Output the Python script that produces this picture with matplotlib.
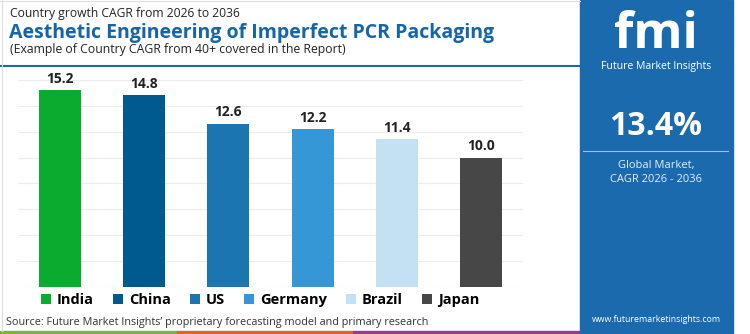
import matplotlib.pyplot as plt
from matplotlib.patches import Rectangle, Patch
from matplotlib.lines import Line2D

countries = ["India", "China", "US", "Germany", "Brazil", "Japan"]
cagr = [15.2, 14.8, 12.6, 12.2, 11.4, 10.0]
bar_colors = ["#0aab2f", "#00598f", "#1b75b1", "#3597d6", "#c4e1f3", "#474747"]
global_cagr = "13.4%"

plt.rcParams["font.family"] = ["Open Sans", "DejaVu Sans"]

W, H = 750, 334
fig = plt.figure(figsize=(W / 100, H / 100), dpi=100)
fig.patch.set_facecolor("white")

def px(x, y):
    return x / W, 1 - y / H

# bar axes: x 18..523 px, y 67..287 px
ax = fig.add_axes([18 / W, 1 - 287 / H, (523 - 18) / W, (287 - 67) / H])
x = range(len(countries))
ax.bar(x, cagr, width=0.5, color=bar_colors, zorder=3)
for i, v in enumerate(cagr):
    ax.text(i, v + 0.35, f"{v:.1f}", ha="center", va="bottom", fontsize=10,
            fontweight="bold", color="#222222", zorder=4)
ax.set_xlim(-0.5, 5.5)
ax.set_ylim(0, 17)
ax.set_yticks(range(0, 17, 2))
ax.grid(axis="y", color="#ececec", linewidth=0.8, zorder=0)
ax.tick_params(left=False, bottom=False, labelleft=False, labelbottom=False)
for s in ax.spines.values():
    s.set_visible(False)

# legend
handles = [Patch(facecolor=c, edgecolor="none") for c in bar_colors]
leg = fig.legend(handles, countries, loc="center", bbox_to_anchor=(260 / W, 1 - 300 / H),
                 ncol=6, frameon=False, handlelength=0.7, handleheight=0.7,
                 handletextpad=0.4, columnspacing=1.3,
                 prop={"weight": "bold", "size": 10.5})

# titles
fig.text(*px(10, 14), "Country growth CAGR from 2026 to 2036", fontsize=8.7,
         color="#222222", va="center", ha="left")
fig.text(*px(9, 33), "Aesthetic Engineering of Imperfect PCR Packaging", fontsize=14,
         fontweight="bold", color="#1565a8", va="center", ha="left")
fig.text(*px(10, 50), "(Example of Country CAGR from 40+ covered in the Report)", fontsize=8.8,
         color="#222222", va="center", ha="left")
fig.add_artist(Line2D([0, 580 / W], [1 - 66 / H, 1 - 66 / H], color="#1a6aad", linewidth=1.5))

fig.text(*px(6, 322), "Source: Future Market Insights\u2019 proprietary forecasting model and primary research",
         fontsize=7.8, color="#333333", va="center", ha="left")

# bottom stripe
for x0, x1, c in [(0, 177, "#7bb342"), (177, 353, "#e0603a"), (353, 580, "#8e3f8f")]:
    fig.add_artist(Rectangle((x0 / W, 0), (x1 - x0) / W, 3 / H, color=c,
                             transform=fig.transFigure))

# frame lines
fig.add_artist(Line2D([1.5 / W, 1.5 / W], [3 / H, 1], color="#dddddd", linewidth=0.8))
fig.add_artist(Line2D([0, 580 / W], [1 - 0.5 / H, 1 - 0.5 / H], color="#dddddd", linewidth=0.8))

# right panel
fig.add_artist(Rectangle((580 / W, 0), (733 - 580) / W, 1, color="#1a6aad",
                         transform=fig.transFigure))
fig.text(*px(656, 48), "fmi", fontsize=36, fontweight="bold", color="white",
         va="baseline", ha="center")
fig.text(*px(656, 67), "Future Market Insights", fontsize=7.6, color="white",
         va="center", ha="center")
fig.text(*px(656, 127), global_cagr, fontsize=23, fontweight="bold", color="white",
         va="center", ha="center")
fig.add_artist(Line2D([583 / W, 728 / W], [1 - 151 / H, 1 - 151 / H], color="#9cc3e4", linewidth=0.8))
fig.text(*px(656, 165), "Global Market,", fontsize=8, color="#e6eef7",
         va="center", ha="center")
fig.text(*px(656, 180), "CAGR 2026 - 2036", fontsize=8, color="#e6eef7",
         va="center", ha="center")
fig.text(*px(656, 320), "www.futuremarketinsights.com", fontsize=6.3, color="white",
         va="center", ha="center")

fig.savefig("out.png", dpi=100)
